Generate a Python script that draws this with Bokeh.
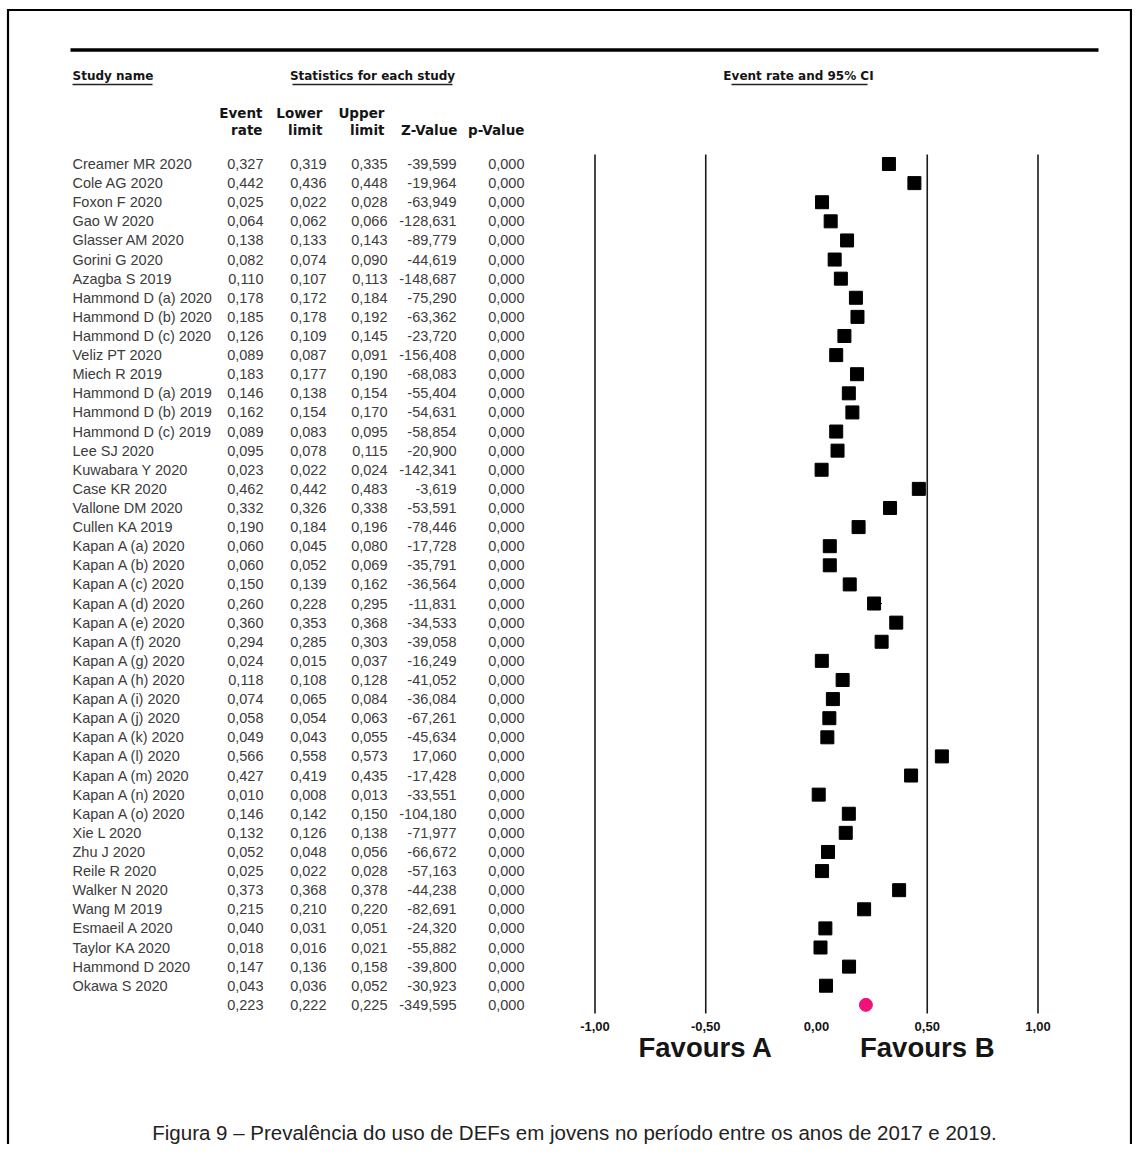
from bokeh.plotting import figure
from bokeh.models import Range1d, ColumnDataSource
from bokeh.core.properties import value
from bokeh.embed import file_html
from bokeh.resources import INLINE

# ---------------- data ----------------
names = ["Creamer MR 2020", "Cole AG 2020", "Foxon F 2020", "Gao W 2020", "Glasser AM 2020",
         "Gorini G 2020", "Azagba S 2019", "Hammond D (a) 2020", "Hammond D (b) 2020",
         "Hammond D (c) 2020", "Veliz PT 2020", "Miech R 2019", "Hammond D (a) 2019",
         "Hammond D (b) 2019", "Hammond D (c) 2019", "Lee SJ 2020", "Kuwabara Y 2020",
         "Case KR 2020", "Vallone DM 2020", "Cullen KA 2019", "Kapan A (a) 2020",
         "Kapan A (b) 2020", "Kapan A (c) 2020", "Kapan A (d) 2020", "Kapan A (e) 2020",
         "Kapan A (f) 2020", "Kapan A (g) 2020", "Kapan A (h) 2020", "Kapan A (i) 2020",
         "Kapan A (j) 2020", "Kapan A (k) 2020", "Kapan A (l) 2020", "Kapan A (m) 2020",
         "Kapan A (n) 2020", "Kapan A (o) 2020", "Xie L 2020", "Zhu J 2020", "Reile R 2020",
         "Walker N 2020", "Wang M 2019", "Esmaeil A 2020", "Taylor KA 2020",
         "Hammond D 2020", "Okawa S 2020"]
event_rate = [0.327, 0.442, 0.025, 0.064, 0.138, 0.082, 0.110, 0.178, 0.185, 0.126, 0.089,
              0.183, 0.146, 0.162, 0.089, 0.095, 0.023, 0.462, 0.332, 0.190, 0.060, 0.060,
              0.150, 0.260, 0.360, 0.294, 0.024, 0.118, 0.074, 0.058, 0.049, 0.566, 0.427,
              0.010, 0.146, 0.132, 0.052, 0.025, 0.373, 0.215, 0.040, 0.018, 0.147, 0.043]
lower_limit = [0.319, 0.436, 0.022, 0.062, 0.133, 0.074, 0.107, 0.172, 0.178, 0.109, 0.087,
               0.177, 0.138, 0.154, 0.083, 0.078, 0.022, 0.442, 0.326, 0.184, 0.045, 0.052,
               0.139, 0.228, 0.353, 0.285, 0.015, 0.108, 0.065, 0.054, 0.043, 0.558, 0.419,
               0.008, 0.142, 0.126, 0.048, 0.022, 0.368, 0.210, 0.031, 0.016, 0.136, 0.036]
upper_limit = [0.335, 0.448, 0.028, 0.066, 0.143, 0.090, 0.113, 0.184, 0.192, 0.145, 0.091,
               0.190, 0.154, 0.170, 0.095, 0.115, 0.024, 0.483, 0.338, 0.196, 0.080, 0.069,
               0.162, 0.295, 0.368, 0.303, 0.037, 0.128, 0.084, 0.063, 0.055, 0.573, 0.435,
               0.013, 0.150, 0.138, 0.056, 0.028, 0.378, 0.220, 0.051, 0.021, 0.158, 0.052]
z_value = [-39.599, -19.964, -63.949, -128.631, -89.779, -44.619, -148.687, -75.290, -63.362,
           -23.720, -156.408, -68.083, -55.404, -54.631, -58.854, -20.900, -142.341, -3.619,
           -53.591, -78.446, -17.728, -35.791, -36.564, -11.831, -34.533, -39.058, -16.249,
           -41.052, -36.084, -67.261, -45.634, 17.060, -17.428, -33.551, -104.180, -71.977,
           -66.672, -57.163, -44.238, -82.691, -24.320, -55.882, -39.800, -30.923]
p_value = [0.000] * 44

summary_rate = 0.223
summary_lower = 0.222
summary_upper = 0.225
summary_z = -349.595
summary_p = 0.000

tick_values = [-1.0, -0.5, 0.0, 0.5, 1.0]
tick_labels = ["-1,00", "-0,50", "0,00", "0,50", "1,00"]
ref_lines = [-1.0, -0.5, 0.5, 1.0]   # vertical reference lines (none at 0)

caption = "Figura 9 \u2013 Preval\u00eancia do uso de DEFs em jovens no per\u00edodo entre os anos de 2017 e 2019."

# ---------------- layout ----------------
W, H = 1132, 1144
ROW0_PX, ROW_H = 163.5, 19.11
X0_PX, X_SCALE = 816.0, 221.5

def fmt(v):
    return f"{v:.3f}".replace(".", ",")

p = figure(width=W, height=H, output_backend="svg", toolbar_location=None,
           x_range=Range1d(-X0_PX / X_SCALE, (W - X0_PX) / X_SCALE),
           y_range=Range1d((H - ROW0_PX) / ROW_H, -ROW0_PX / ROW_H),
           x_axis_type=None, y_axis_type=None, min_border=0)
p.outline_line_color = None
p.background_fill_color = "white"
p.border_fill_color = "white"
p.extra_x_ranges = {"px": Range1d(0, W)}
p.extra_y_ranges = {"px": Range1d(H, 0)}

BODY_FONT = value("Liberation Sans")
HEAD_FONT = value("DejaVu Sans")
TXT = "#3c3c3c"
DARK = "#151515"

# frame and thick rule
p.segment(x0=[7.5, 6.5, 1130.5], y0=[8.5, 9.5, 8.5], x1=[7.5, 1132, 1130.5], y1=[H, 9.5, H],
          line_color="black", line_width=2.2, x_range_name="px", y_range_name="px")
p.segment(x0=[70], y0=[49.5], x1=[1098], y1=[49.5], line_color="black", line_width=3.5,
          x_range_name="px", y_range_name="px")

# section headers (underlined)
p.text(x=[72, 372, 798], y=[75, 75, 75],
       text=["Study name", "Statistics for each study", "Event rate and 95% CI"],
       text_align=["left", "center", "center"], text_baseline="middle",
       text_font=HEAD_FONT, text_font_style="bold", text_font_size="12px", text_color=DARK,
       x_range_name="px", y_range_name="px")
p.segment(x0=[72, 292, 731], y0=[84, 84, 84], x1=[152, 452, 867], y1=[84, 84, 84],
          line_color="#222222", line_width=1.3, x_range_name="px", y_range_name="px")

# column headers
hdr_x = [262, 322, 384, 457, 524]
p.text(x=hdr_x[:3], y=[112] * 3, text=["Event", "Lower", "Upper"],
       text_align="right", text_baseline="middle", text_font=HEAD_FONT,
       text_font_style="bold", text_font_size="13.5px", text_color=DARK,
       x_range_name="px", y_range_name="px")
p.text(x=hdr_x, y=[129] * 5, text=["rate", "limit", "limit", "Z-Value", "p-Value"],
       text_align="right", text_baseline="middle", text_font=HEAD_FONT,
       text_font_style="bold", text_font_size="13.5px", text_color=DARK,
       x_range_name="px", y_range_name="px")

# table body
col_x = [263, 326, 387, 456, 524]
rows = list(range(len(names)))
src = ColumnDataSource(dict(
    row=rows, name=names,
    er=[fmt(v) for v in event_rate], lo=[fmt(v) for v in lower_limit],
    up=[fmt(v) for v in upper_limit], z=[fmt(v) for v in z_value], pv=[fmt(v) for v in p_value],
    x=event_rate, l=lower_limit, u=upper_limit))

BODY_SIZE = "14.5px"
p.text(x=72, y="row", text="name", source=src, text_align="left", text_baseline="middle",
       text_font=BODY_FONT, text_font_size=BODY_SIZE, text_color=TXT, x_range_name="px")
for cx, col in zip(col_x, ["er", "lo", "up", "z", "pv"]):
    p.text(x=cx, y="row", text=col, source=src, text_align="right", text_baseline="middle",
           text_font=BODY_FONT, text_font_size=BODY_SIZE, text_color=TXT, x_range_name="px")

srow = len(names)
p.text(x=col_x, y=[srow] * 5,
       text=[fmt(summary_rate), fmt(summary_lower), fmt(summary_upper), fmt(summary_z), fmt(summary_p)],
       text_align="right", text_baseline="middle", text_font=BODY_FONT,
       text_font_size=BODY_SIZE, text_color=TXT, x_range_name="px")

# forest plot
p.segment(x0=ref_lines, y0=[154] * len(ref_lines), x1=ref_lines, y1=[1013] * len(ref_lines),
          line_color="#1a1a1a", line_width=1.6, y_range_name="px")
p.segment(x0="l", y0="row", x1="u", y1="row", source=src, line_color="black", line_width=1)
p.scatter(x="x", y="row", source=src, marker="square", size=13,
          fill_color="black", line_color="black")
p.scatter(x=[summary_rate], y=[srow], marker="circle", size=13,
          fill_color="#f0127a", line_color="#f0127a")

p.text(x=tick_values, y=[1026] * 5, text=tick_labels, text_align="center",
       text_baseline="middle", text_font=BODY_FONT, text_font_style="bold",
       text_font_size="13px", text_color=DARK, y_range_name="px")

p.text(x=[-0.5, 0.5], y=[1047, 1047], text=["Favours A", "Favours B"], text_align="center",
       text_baseline="middle", text_font=BODY_FONT, text_font_style="bold",
       text_font_size="27.5px", text_color=DARK, y_range_name="px")

p.text(x=[574], y=[1132], text=[caption], text_align="center", text_baseline="middle",
       text_font=BODY_FONT, text_font_size="20.5px", text_color="#222222",
       x_range_name="px", y_range_name="px")

open("out.html", "w").write(file_html(p, INLINE))
